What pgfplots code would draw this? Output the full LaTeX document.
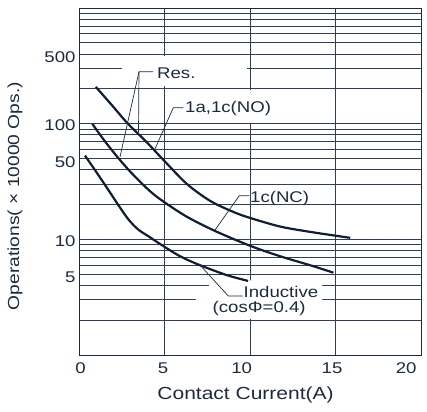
\documentclass[border=0pt]{standalone}
\usepackage{fontspec}
\setmainfont{Liberation Sans}[FakeStretch=1.2]
\usepackage{pgfplots}
\pgfplotsset{compat=1.18}
\definecolor{ink}{HTML}{1B2A3E}
\definecolor{gridc}{HTML}{2E3F56}
\definecolor{curvec}{HTML}{0E1F34}

\pgfplotstableread{
x y
0.98 208
1.95 143
2.83 101
3.90 70.6
4.88 49.6
6.30 30.2
7.67 21.5
9.01 17.3
10.01 15.3
11.76 12.9
13.52 11.6
15.86 10.3
}\resNO

\pgfplotstableread{
x y
0.78 99.4
1.56 69
2.34 49.6
3.12 36.8
4.10 26.5
4.88 21.5
6.30 15.7
7.96 11.8
10.01 8.79
11.76 7.14
13.52 5.97
14.88 5.15
}\resNC

\pgfplotstableread{
x y
0.35 53.0
0.99 38.6
1.64 27.8
2.28 20.0
2.87 15.0
3.45 12.2
4.16 10.4
4.86 8.88
5.91 7.14
7.08 5.97
8.65 4.90
9.89 4.37
}\ind

\begin{document}
\begin{tikzpicture}
\begin{axis}[
  scale only axis, width=342pt, height=347pt,
  xmin=0, xmax=20, ymode=log, ymin=1, ymax=1000,
  xtick={5,10,15}, xticklabels={},
  ytick={2,3,4,5,6,7,8,9,10,20,30,40,50,60,70,80,90,100,200,300,400,500,600,700,800,900},
  yticklabels={},
  xmajorgrids, ymajorgrids,
  major grid style={gridc, line width=0.75pt},
  major tick length=0pt, minor tick length=0pt,
  axis line style={ink, line width=0.9pt},
  extra x ticks={0.09,4.92,9.51,14.8,19.13},
  extra x tick labels={0,5,10,15,20},
  extra x tick style={grid=none},
  extra y ticks={4.72,9.55,46.6,97.3,377},
  extra y tick labels={5,10,50,100,500},
  extra y tick style={grid=none},
  tick label style={font=\fontsize{15.5}{18}\selectfont, text=ink},
  xticklabel style={yshift=-4.3pt},
  xlabel={Contact Current(A)},
  ylabel={Operations( × 10000 Ops.)},
  xlabel style={font=\fontsize{17.5}{20}\selectfont, text=ink, at={(axis description cs:0.487,-0.1153)}, anchor=center},
  ylabel style={font=\fontsize{16}{19}\selectfont, text=ink, at={(axis description cs:-0.187,0.458)}, anchor=center},
  clip=false,
]
\coordinate (bl) at (rel axis cs:0,0);
\coordinate (tr) at (rel axis cs:1,1);
% gaps in the grid behind the labels
\fill[white] (rel axis cs:0.1257,0.776) rectangle (rel axis cs:0.4912,0.862);
\fill[white] (rel axis cs:0.295,0.670) rectangle (rel axis cs:0.602,0.763);
\fill[white] (rel axis cs:0.342,0.104) -- (rel axis cs:0.342,0.18) -- (rel axis cs:0.380,0.18) -- (rel axis cs:0.380,0.215) -- (rel axis cs:0.711,0.215) -- (rel axis cs:0.711,0.104) -- cycle;

\addplot[curvec, line width=2.2pt, smooth, tension=0.5] table {\resNO};
\addplot[curvec, line width=2.2pt, smooth, tension=0.5] table {\resNC};
\addplot[curvec, line width=2.2pt, smooth, tension=0.5] table {\ind};

% leaders
\draw[ink, line width=0.7pt] (rel axis cs:0.2164,0.8164) -- (rel axis cs:0.1754,0.8164) -- (rel axis cs:0.1740,0.6412);
\draw[ink, line width=0.7pt] (rel axis cs:0.1754,0.8164) -- (rel axis cs:0.1199,0.5706);
\draw[ink, line width=0.7pt] (rel axis cs:0.3050,0.7127) -- (rel axis cs:0.2757,0.7127) -- (rel axis cs:0.2222,0.5937);
\draw[ink, line width=0.7pt] (rel axis cs:0.4980,0.4591) -- (rel axis cs:0.4687,0.4591) -- (rel axis cs:0.3977,0.3602);
\draw[ink, line width=0.7pt] (rel axis cs:0.4787,0.1700) -- (rel axis cs:0.4366,0.1700) -- (rel axis cs:0.3523,0.2608);

\tikzset{lab/.style={anchor=base west, inner sep=0pt, font=\fontsize{15.5}{18}\selectfont, text=ink}}
\node[lab] at (rel axis cs:0.2281,0.7977) {Res.};
\node[lab] at (rel axis cs:0.3099,0.6974) {1a,1c(NO)};
\node[lab] at (rel axis cs:0.5,0.4409) {1c(NC)};
\node[lab] at (rel axis cs:0.4810,0.1671) {Inductive};
\node[lab] at (rel axis cs:0.3904,0.1239) {(cosΦ=0.4)};
\end{axis}
\pgfresetboundingbox
\path ([shift={(-79pt,-56pt)}]bl) rectangle ([shift={(6pt,8pt)}]tr);
\end{tikzpicture}
\end{document}
